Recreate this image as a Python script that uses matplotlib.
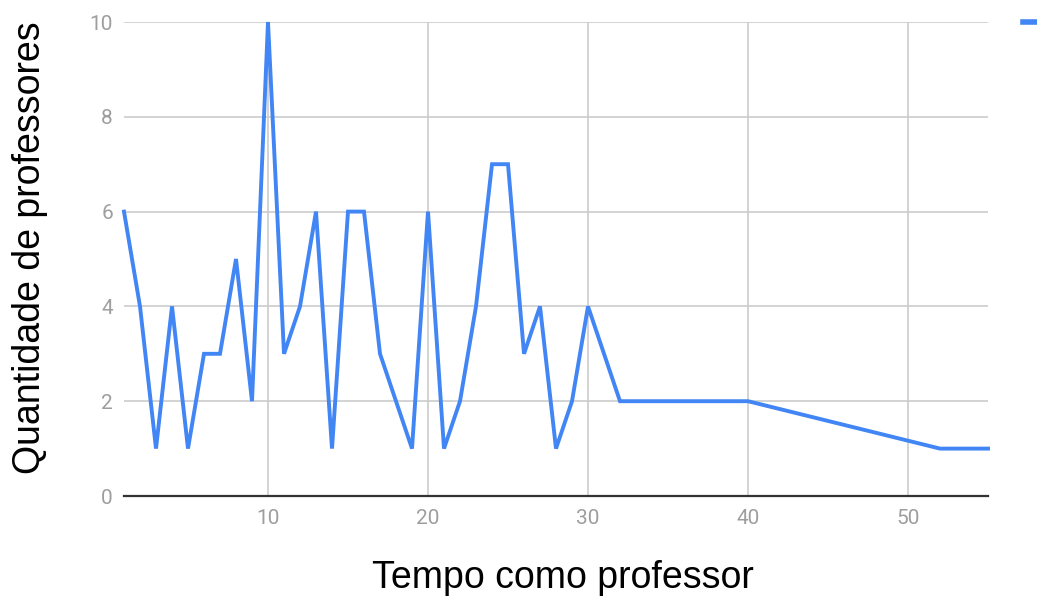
import matplotlib
matplotlib.use("Agg")
import matplotlib.pyplot as plt
from matplotlib.lines import Line2D

anos = [1, 2, 3, 4, 5, 6, 7, 8, 9, 10, 11, 12, 13, 14, 15, 16, 17, 18, 19, 20,
        21, 22, 23, 24, 25, 26, 27, 28, 29, 30, 32, 40, 52, 55]
professores = [6, 4, 1, 4, 1, 3, 3, 5, 2, 10, 3, 4, 6, 1, 6, 6, 3, 2, 1, 6,
               1, 2, 4, 7, 7, 3, 4, 1, 2, 4, 2, 2, 1, 1]
x_ticks = [10, 20, 30, 40, 50]
y_ticks = [0, 2, 4, 6, 8, 10]

fig = plt.figure(figsize=(10.37, 5.98), dpi=100)
ax = fig.add_axes([124/1037, 1-496/598, (988-124)/1037, (496-22)/598])

ax.plot(anos, professores, color="#4285F4", lw=2.8, solid_joinstyle="miter", zorder=3, clip_on=False)
ax.set_xlim(1, 55)
ax.set_ylim(0, 10)
ax.set_xticks(x_ticks)
ax.set_yticks(y_ticks)
ax.grid(True, color="#cccccc", lw=1.2)
ax.set_axisbelow(True)
for s in ["top", "right", "left"]:
    ax.spines[s].set_visible(False)
ax.spines["bottom"].set_color("#333333")
ax.spines["bottom"].set_linewidth(1.6)
ax.spines["bottom"].set_zorder(4)
ax.tick_params(length=0, labelsize=15, labelcolor="#9e9e9e")
for lab in ax.get_xticklabels() + ax.get_yticklabels():
    lab.set_family("Roboto")
ax.tick_params(axis="y", pad=8)
ax.tick_params(axis="x", pad=9)

fig.text(563/1037, 1-578/598, "Tempo como professor", ha="center", va="center",
         fontsize=27, family="Liberation Sans", color="black")
fig.text(30/1037, 1-248/598, "Quantidade de professores", ha="center", va="center",
         rotation=90, fontsize=27, family="Liberation Sans", color="black")

fig.lines.append(Line2D([1023/1037, 1045/1037], [1-22/598, 1-22/598],
                        transform=fig.transFigure, color="#4285F4", lw=4))

fig.savefig("out.png", dpi=100)
